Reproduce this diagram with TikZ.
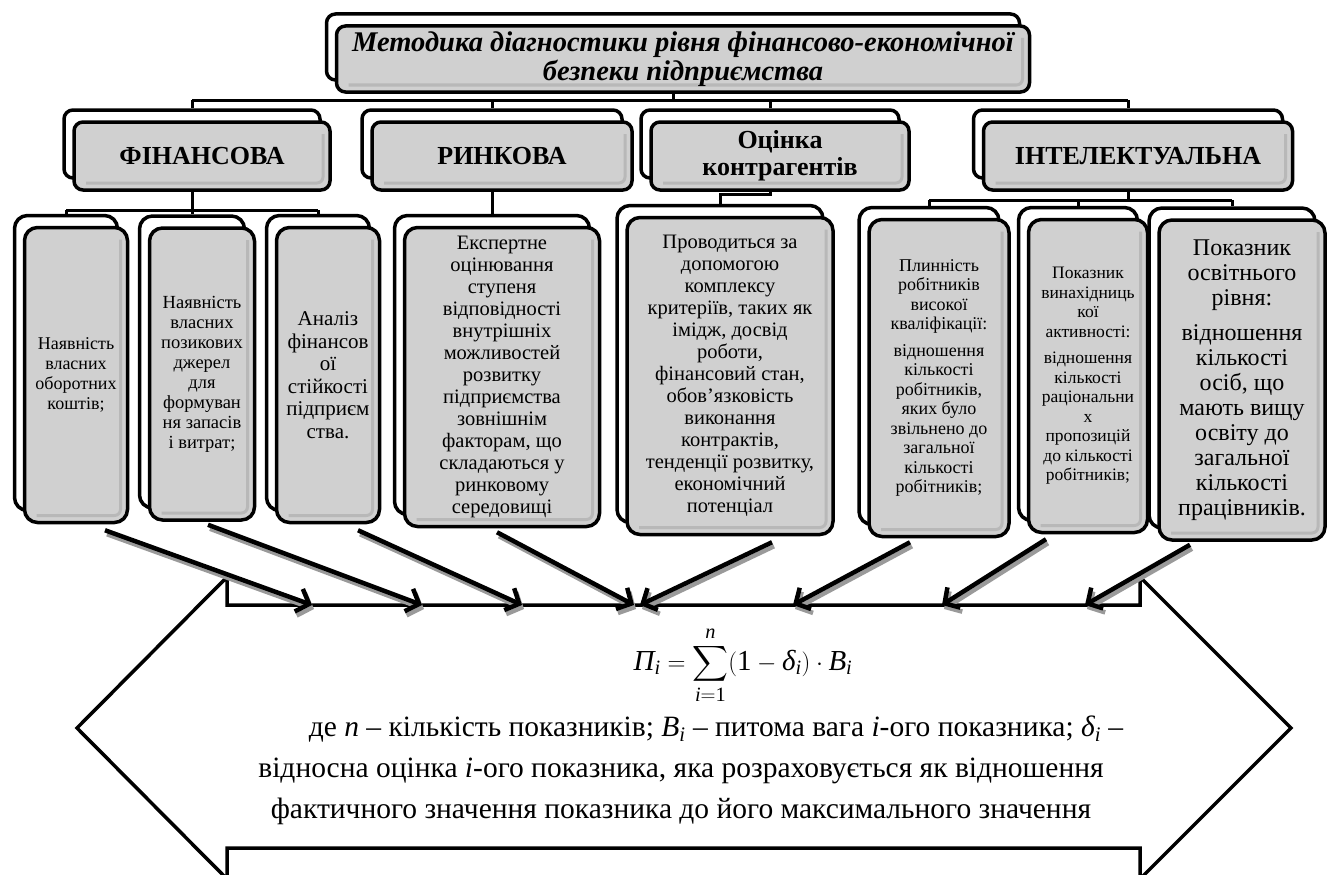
\documentclass[tikz,border=0pt]{standalone}
\usepackage{amsmath}
\usepackage{fontspec}
\setmainfont{Liberation Serif}
\usepackage{tikz}
\usetikzlibrary{arrows.meta}

\definecolor{boxgray}{HTML}{D0D0D0}
\definecolor{bandgray}{HTML}{B8B8B8}
\definecolor{shadegray}{HTML}{9A9A9A}
\newcommand{\itx}[1]{\text{\itshape #1}}

\tikzset{
  backbox/.style={draw, line width=3.5pt, rounded corners=#1, fill=white, inner sep=0pt},
  backbox/.default=9pt,
  frontbox/.style={draw, line width=3.5pt, rounded corners=#1, fill=boxgray, align=center, inner sep=0pt,
    path picture={\draw[line width=3pt, bandgray, rounded corners=6pt]
      ([xshift=-7pt,yshift=-12pt]path picture bounding box.north east)
      -- ([xshift=-7pt,yshift=7pt]path picture bounding box.south east)
      -- ([xshift=12pt,yshift=7pt]path picture bounding box.south west);}},
  frontbox/.default=9pt,
  link/.style={line width=3pt},
  feed/.style={line width=4.5pt, -{Straight Barb[length=11pt,width=24pt]}},
  feedshade/.style={feed, draw=shadegray, transform canvas={shift={(2pt,-4pt)}}},
  bigarrow/.style={line width=3.5pt, fill=white, line join=miter},
}

\begin{document}
\begin{tikzpicture}[x=1pt,y=-1pt]
\useasboundingbox (0,0) rectangle (1328,875);

% title
\node[backbox, minimum width=693pt, minimum height=66pt] (titleb) at (673,47) {};
\node[frontbox, minimum width=693pt, minimum height=66pt,
  font=\fontsize{28.5}{28.5}\selectfont\bfseries\itshape] (title) at (683,59)
  {Методика діагностики рівня фінансово-економічної\\безпеки підприємства};

% first row
\node[backbox, minimum width=256pt, minimum height=68pt] (finb) at (192,144) {};
\node[frontbox, minimum width=256pt, minimum height=68pt, font=\fontsize{26}{27}\selectfont\bfseries] (fin) at (202,156) {ФІНАНСОВА};
\node[backbox, minimum width=260pt, minimum height=68pt] (rinb) at (492,144) {};
\node[frontbox, minimum width=260pt, minimum height=68pt, font=\fontsize{26}{27}\selectfont\bfseries] (rin) at (502,156) {РИНКОВА};
\node[backbox, minimum width=258pt, minimum height=68pt] (ocib) at (770,144) {};
\node[frontbox, minimum width=258pt, minimum height=68pt, font=\fontsize{26}{27}\selectfont\bfseries] (oci) at (780,156) {Оцінка\\контрагентів};
\node[backbox, minimum width=309pt, minimum height=68pt] (intb) at (1128,144) {};
\node[frontbox, minimum width=309pt, minimum height=68pt, font=\fontsize{26}{27}\selectfont\bfseries] (int) at (1138,156) {ІНТЕЛЕКТУАЛЬНА};

% leaves
\node[backbox=13pt, minimum width=103pt, minimum height=295pt] (l1b) at (66,363) {};
\node[frontbox=13pt, minimum width=103pt, minimum height=295pt, font=\fontsize{18}{20}\selectfont] (l1) at (76,375)
  {Наявність\\власних\\оборотних\\коштів;};
\node[backbox=13pt, minimum width=105pt, minimum height=292pt] (l2b) at (192,362) {};
\node[frontbox=13pt, minimum width=105pt, minimum height=292pt, font=\fontsize{18.5}{20}\selectfont] (l2) at (202,374)
  {Наявність\\власних\\позикових\\джерел\\для\\формуван\\ня запасів\\і витрат;};
\node[backbox=13pt, minimum width=103pt, minimum height=295pt] (l3b) at (318,363) {};
\node[frontbox=13pt, minimum width=103pt, minimum height=295pt, font=\fontsize{21}{22.5}\selectfont] (l3) at (328,375)
  {Аналіз\\фінансов\\ої\\стійкості\\підприєм\\ства.};
\node[backbox=13pt, minimum width=195pt, minimum height=299pt] (l4b) at (492,365) {};
\node[frontbox=13pt, minimum width=195pt, minimum height=299pt, font=\fontsize{20.5}{22}\selectfont] (l4) at (502,377)
  {Експертне\\оцінювання\\ступеня\\відповідності\\внутрішніх\\можливостей\\розвитку\\підприємства\\зовнішнім\\факторам, що\\складаються у\\ринковому\\середовищі};
\node[backbox=13pt, minimum width=206pt, minimum height=317pt] (l5b) at (720,364) {};
\node[frontbox=13pt, minimum width=206pt, minimum height=317pt, font=\fontsize{20.5}{22}\selectfont] (l5) at (730,376)
  {Проводиться за\\допомогою\\комплексу\\критеріїв, таких як\\імідж, досвід\\роботи,\\фінансовий стан,\\обов’язковість\\виконання\\контрактів,\\тенденції розвитку,\\економічний\\потенціал};
\node[backbox=13pt, minimum width=140pt, minimum height=317pt] (l6b) at (929,366) {};
\node[frontbox=13pt, minimum width=140pt, minimum height=317pt, font=\fontsize{18}{19.5}\selectfont] (l6) at (939,378)
  {Плинність\\робітників\\високої\\кваліфікації:\\[7pt]відношення\\кількості\\робітників,\\яких було\\звільнено до\\загальної\\кількості\\робітників;};
\node[backbox=13pt, minimum width=119pt, minimum height=313pt] (l7b) at (1078,364) {};
\node[frontbox=13pt, minimum width=119pt, minimum height=313pt, font=\fontsize{17.5}{19.5}\selectfont] (l7) at (1088,376)
  {Показник\\винахідниць\\кої\\активності:\\[7pt]відношення\\кількості\\раціональни\\х\\пропозицій\\до кількості\\робітників;};
\node[backbox=13pt, minimum width=166pt, minimum height=320pt] (l8b) at (1232,368) {};
\node[frontbox=13pt, minimum width=166pt, minimum height=320pt, font=\fontsize{24}{25}\selectfont] (l8) at (1242,380)
  {Показник\\освітнього\\рівня:\\[10pt]відношення\\кількості\\осіб, що\\мають вищу\\освіту до\\загальної\\кількості\\працівників.};

% tree lines
\coordinate (bus0) at (0,100);
\coordinate (bus1) at (0,210);
\coordinate (bus2) at (0,194);
\coordinate (bus3) at (0,200);
\draw[link] (titleb |- title.south) -- (titleb |- bus0);
\draw[link] (finb |- bus0) -- (intb |- bus0);
\draw[link] (finb |- bus0) -- (finb.north);
\draw[link] (rinb |- bus0) -- (rinb.north);
\draw[link] (ocib |- bus0) -- (ocib.north);
\draw[link] (intb |- bus0) -- (intb.north);
\draw[link] (finb |- fin.south) -- (finb |- bus1);
\draw[link] (l1b |- bus1) -- (l3b |- bus1);
\draw[link] (l1b |- bus1) -- (l1b.north);
\draw[link] (l2b |- bus1) -- (l2b.north);
\draw[link] (l3b |- bus1) -- (l3b.north);
\draw[link] (rinb |- rin.south) -- (l4b.north);
\draw[link] (ocib |- oci.south) -- (ocib |- bus2) -| (l5b.north);
\draw[link] (intb |- int.south) -- (intb |- bus3);
\draw[link] (l6b |- bus3) -- (l8b |- bus3);
\draw[link] (l6b |- bus3) -- (l6b.north);
\draw[link] (l7b |- bus3) -- (l7b.north);
\draw[link] (l8b |- bus3) -- (l8b.north);

% double arrow
\draw[bigarrow] (227,605) -- (1140,605) -- (1140,577) -- (1291,728) -- (1140,879)
  -- (1140,848) -- (227,848) -- (227,879) -- (77,728) -- (227,577) -- cycle;
\coordinate (t1) at (312,605);
\coordinate (t2) at (422,605);
\coordinate (t3) at (522,605);
\coordinate (t4) at (634,605);
\coordinate (t5) at (640,605);
\coordinate (t6) at (793,605);
\coordinate (t7) at (942,605);
\coordinate (t8) at (1085,605);

\draw[feedshade] ([shift={(29,6)}]l1.south) -- (t1);
\draw[feedshade] ([shift={(6,3)}]l2.south) -- (t2);
\draw[feedshade] ([shift={(30,6)}]l3.south) -- (t3);
\draw[feedshade] ([shift={(-5,4)}]l4.south) -- (t4);
\draw[feedshade] ([shift={(42,6)}]l5.south) -- (t5);
\draw[feedshade] ([shift={(-29,4)}]l6.south) -- (t6);
\draw[feedshade] ([shift={(-42,5)}]l7.south) -- (t7);
\draw[feedshade] ([shift={(-52,3)}]l8.south) -- (t8);
\draw[feed] ([shift={(29,6)}]l1.south) -- (t1);
\draw[feed] ([shift={(6,3)}]l2.south) -- (t2);
\draw[feed] ([shift={(30,6)}]l3.south) -- (t3);
\draw[feed] ([shift={(-5,4)}]l4.south) -- (t4);
\draw[feed] ([shift={(42,6)}]l5.south) -- (t5);
\draw[feed] ([shift={(-29,4)}]l6.south) -- (t6);
\draw[feed] ([shift={(-42,5)}]l7.south) -- (t7);
\draw[feed] ([shift={(-52,3)}]l8.south) -- (t8);

% formula and text
\node[inner sep=0pt, font=\fontsize{29}{30}\selectfont] (formula) at (743,665)
  {$\displaystyle \itx{П}_{\itx{i}} = \sum_{\itx{i}=\text{1}}^{\itx{n}\rule[-3pt]{0pt}{0pt}} (\text{1} - \itx{δ}_{\itx{i}}) \cdot \itx{B}_{\itx{i}}$};
\node[inner sep=0pt, align=center, font=\fontsize{29.5}{41}\selectfont] (legend) at (681,770)
  {\hspace*{70pt}де \textit{n} – кількість показників; $\itx{B}_{\itx{i}}$ – питома вага \textit{i}-ого показника; $\itx{δ}_{\itx{i}}$ –\\
   відносна оцінка \textit{i}-ого показника, яка розраховується як відношення\\
   фактичного значення показника до його максимального значення};
\end{tikzpicture}
\end{document}
